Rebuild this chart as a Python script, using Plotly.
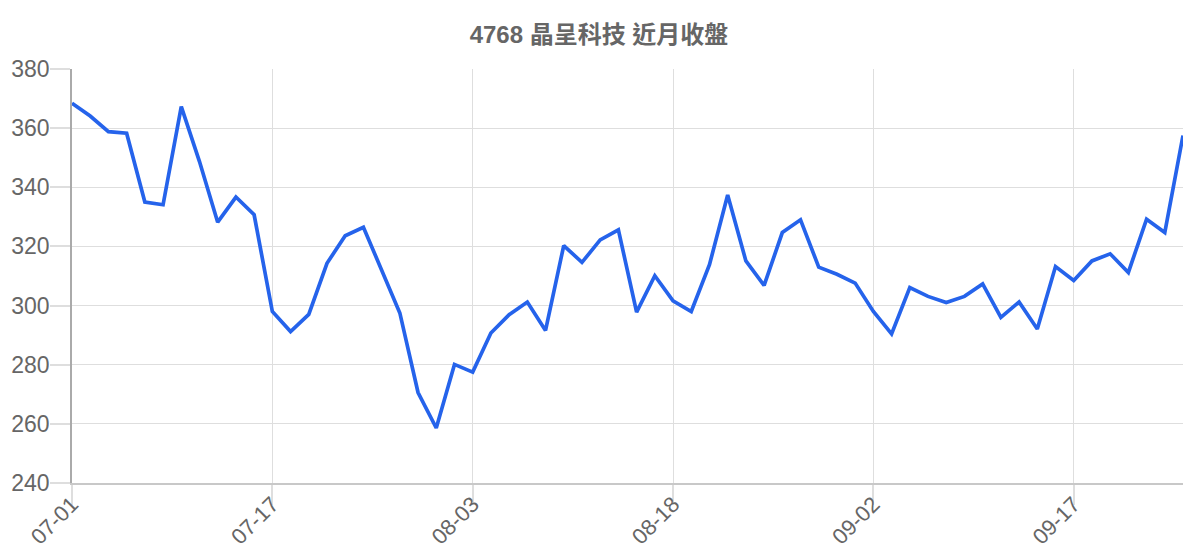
import plotly.graph_objects as go

# trading days (MM-DD), every 11th one gets a label
dates = [
    '07-01', '07-02', '07-03', '07-06', '07-07', '07-08', '07-09', '07-10',
    '07-13', '07-14', '07-15', '07-17', '07-20', '07-21', '07-22', '07-23',
    '07-24', '07-27', '07-28', '07-29', '07-30', '07-31', '08-03', '08-04',
    '08-05', '08-06', '08-07', '08-10', '08-11', '08-12', '08-13', '08-14',
    '08-17', '08-18', '08-19', '08-20', '08-21', '08-24', '08-25', '08-26',
    '08-27', '08-28', '08-31', '09-01', '09-02', '09-03', '09-04', '09-07',
    '09-08', '09-09', '09-10', '09-11', '09-14', '09-15', '09-16', '09-17',
    '09-18', '09-21', '09-22', '09-23', '09-24', '09-25',
]

# closing prices
closes = [
    368.4, 364.1, 358.8, 358.3, 335.0, 334.1, 367.3, 348.7, 328.2, 336.7,
    330.7, 298.0, 291.2, 297.0, 314.3, 323.6, 326.5, 312.1, 297.5, 270.6,
    258.6, 280.1, 277.5, 290.7, 296.9, 301.2, 291.6, 320.3, 314.6, 322.2,
    325.6, 297.8, 310.1, 301.6, 298.0, 313.8, 337.4, 315.1, 306.8, 324.7,
    329.0, 313.0, 310.6, 307.6, 298.0, 290.4, 306.1, 303.1, 301.0, 303.1,
    307.3, 296.0, 301.2, 292.1, 313.2, 308.5, 315.1, 317.5, 311.2, 329.2,
    324.7, 357.5,
]

title = '4768 晶呈科技 近月收盤'
tick_labels = dates[::11]

font_family = 'Liberation Sans, Arial, Noto Sans CJK TC, sans-serif'
grid = '#dedede'

fig = go.Figure()
fig.add_trace(go.Scatter(x=dates, y=closes, mode='lines',
                         line=dict(color='#2563eb', width=3.7),
                         hoverinfo='x+y', showlegend=False))

# the page puts the figure 8px in from the top-left corner
fig.update_layout(
    width=1200, height=560,
    margin=dict(l=64, r=25, t=61, b=85, autoexpand=False),
    paper_bgcolor='white', plot_bgcolor='white',
    font=dict(family=font_family, color='#666666', size=23),
    title=dict(text='<b>' + title + '</b>', x=0.4925, xanchor='center',
               y=0.953, yanchor='middle',
               font=dict(size=24, color='#666666')),
)

fig.update_xaxes(
    type='category', range=[0, len(dates) - 1], automargin=False,
    tickmode='array', tickvals=tick_labels, ticktext=tick_labels,
    tickangle=-45, ticks='outside', ticklen=20, tickcolor=grid, tickwidth=1.5,
    ticklabelstandoff=-22, tickfont=dict(size=22),
    showgrid=True, gridcolor=grid, gridwidth=1.2,
    showline=True, linecolor='#c8c8c8', linewidth=1.5,
    zeroline=False,
)
fig.update_yaxes(
    range=[240, 380], dtick=20, automargin=False,
    ticks='outside', ticklen=20, tickcolor=grid, tickwidth=1.5,
    ticklabelstandoff=-4,
    showgrid=True, gridcolor=grid, gridwidth=1.2,
    showline=True, linecolor='#aaaaaa', linewidth=1.5,
    zeroline=False,
)

fig.write_html('out.html')
